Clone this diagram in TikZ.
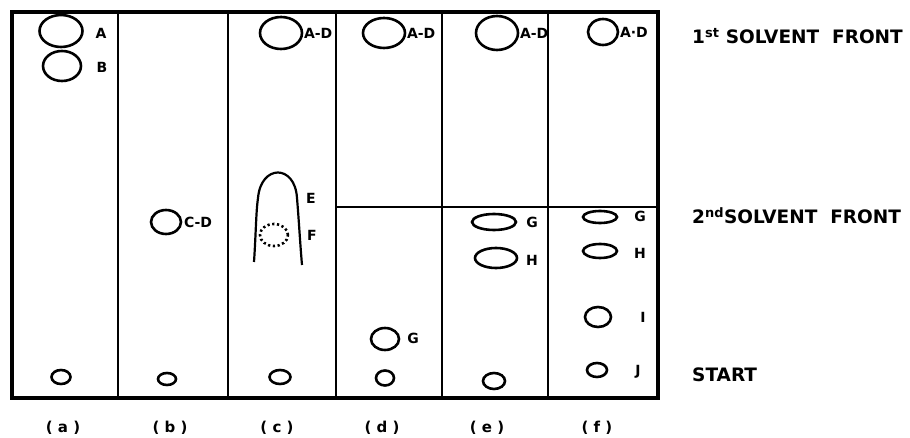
\documentclass[tikz,border=0pt]{standalone}
\usepackage{fontspec}
\setmainfont{DejaVu Sans}
\usetikzlibrary{shapes.geometric,positioning}

\begin{document}
\begin{tikzpicture}[x=1pt,y=-1pt,
  spot/.style={draw,ellipse,line width=2.6pt,inner sep=0pt},
  lbl/.style={font=\fontsize{14}{14}\selectfont\bfseries,inner sep=0.5pt},
  striplbl/.style={font=\fontsize{15}{15}\selectfont\bfseries,inner sep=0pt},
  front/.style={font=\fontsize{18.5}{18.5}\selectfont\bfseries,anchor=west,inner sep=0pt}]
\useasboundingbox (0,0) rectangle (910,438);

% plate frame and strips
\draw[line width=3.4pt] (12,12) rectangle (658,398);
\draw[line width=2.8pt] (118,12)--(118,398);
\draw[line width=2.8pt] (228,12)--(228,398);
\draw[line width=2.8pt] (336,12)--(336,398);
\draw[line width=2.4pt] (442,12)--(442,398);
\draw[line width=2.8pt] (548,12)--(548,398);
\draw[line width=2.4pt] (336,207)--(658,207);

% (a)
\node[spot,minimum width=43pt,minimum height=32pt](aA) at (61,31){};
\node[lbl](aAl) at (101,33){A};
\node[spot,minimum width=38pt,minimum height=30pt](aB) at (62,66){};
\node[lbl](aBl) at (102,67){B};
\node[spot,minimum width=19pt,minimum height=14pt](aS) at (61,377){};

% (b)
\node[spot,minimum width=30pt,minimum height=24pt](bCD) at (166,222){};
\node[lbl,right=1pt of bCD](bCDl){C-D};
\node[spot,minimum width=18pt,minimum height=12pt](bS) at (167,379){};

% (c)
\node[spot,minimum width=42pt,minimum height=32pt](cAD) at (281,33){};
\node[lbl,right=0pt of cAD](cADl){A-D};
\draw[line width=2.2pt] (254,262) .. controls (256,232) and (256,212) .. (258,198)
  .. controls (261,164) and (295,164) .. (297,198)
  .. controls (299,222) and (300,242) .. (302,265);
\node[lbl](cEl) at (311,198){E};
\node[spot,dash pattern=on 2.2pt off 2.6pt,minimum width=28pt,minimum height=22pt](cF) at (274,235){};
\node[lbl](cFl) at (312,235){F};
\node[spot,minimum width=21pt,minimum height=14pt](cS) at (280,377){};

% (d)
\node[spot,minimum width=42pt,minimum height=30pt](dAD) at (384,33){};
\node[lbl,right=0pt of dAD](dADl){A-D};
\node[spot,minimum width=28pt,minimum height=22pt](dG) at (385,339){};
\node[lbl](dGl) at (413,338){G};
\node[spot,minimum width=18pt,minimum height=15pt](dS) at (385,378){};

% (e)
\node[spot,minimum width=42pt,minimum height=34pt](eAD) at (497,33){};
\node[lbl,right=0pt of eAD](eADl){A-D};
\node[spot,minimum width=44pt,minimum height=16pt](eG) at (494,222){};
\node[lbl](eGl) at (532,222){G};
\node[spot,minimum width=42pt,minimum height=20pt](eH) at (496,258){};
\node[lbl](eHl) at (532,260){H};
\node[spot,minimum width=22pt,minimum height=16pt](eS) at (494,381){};

% (f)
\node[spot,minimum width=30pt,minimum height=26pt](fAD) at (603,32){};
\node[lbl,right=0pt of fAD](fADl){A·D};
\node[spot,minimum width=34pt,minimum height=12pt](fG) at (600,217){};
\node[lbl](fGl) at (640,216){G};
\node[spot,minimum width=34pt,minimum height=14pt](fH) at (600,251){};
\node[lbl](fHl) at (640,253){H};
\node[spot,minimum width=26pt,minimum height=20pt](fI) at (598,317){};
\node[lbl](fIl) at (643,317){I};
\node[spot,minimum width=20pt,minimum height=14pt](fJ) at (597,370){};
\node[lbl](fJl) at (638,372){J};

% strip captions
\node[striplbl](ca) at (63,428){( a )};
\node[striplbl](cb) at (170,428){( b )};
\node[striplbl](cc) at (277,428){( c )};
\node[striplbl](cd) at (382,428){( d )};
\node[striplbl](ce) at (487,428){( e )};
\node[striplbl](cf) at (597,428){( f )};

% fronts
\node[front](f1) at (692,36){1\textsuperscript{st} SOLVENT\ \ FRONT};
\node[front](f2) at (692,216){2\textsuperscript{nd}SOLVENT\ \ FRONT};
\node[front](st) at (692,375){START};
\end{tikzpicture}
\end{document}
